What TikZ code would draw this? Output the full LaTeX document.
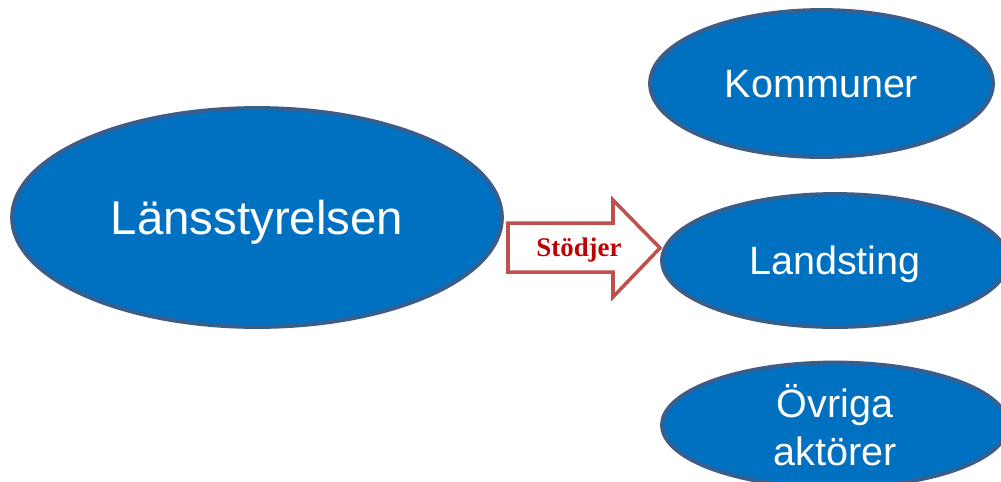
\documentclass[tikz,border=0pt]{standalone}
\usepackage{fontspec}
\setmainfont{Liberation Sans}
\newfontfamily\arrowfont{Liberation Serif}
\usetikzlibrary{shapes.geometric}
\definecolor{ovalblue}{RGB}{0,112,192}
\definecolor{ovalrim}{RGB}{58,94,140}
\definecolor{arrowrim}{RGB}{192,80,77}
\definecolor{arrowtext}{RGB}{192,0,0}
\tikzset{
  oval/.style={
    ellipse,
    fill=ovalblue,
    draw=ovalrim,
    line width=2.2pt,
    text=white,
    inner sep=0pt,
    text depth=0pt,
    align=center,
    font=\fontsize{22.5}{27}\selectfont
  },
  oval-big/.style={oval, font=\fontsize{27}{32}\selectfont},
  arrow-block/.style={draw=arrowrim, fill=white, line width=2pt, line join=miter},
  arrow-label/.style={text=arrowtext, font=\arrowfont\bfseries\fontsize{15.3}{18}\selectfont}
}

\begin{document}
\begin{tikzpicture}[x=0.02cm, y=-0.02cm]
  \useasboundingbox (0,0) rectangle (1001,481);

  % vänster sida
  \node[oval-big, minimum width=9.8cm, minimum height=4.38cm] (lans) at (257,217.5) {Länsstyrelsen};

  % höger sida
  \node[oval, minimum width=6.86cm, minimum height=2.94cm] (kommuner) at (821.5,83.5) {Kommuner};
  \node[oval, minimum width=6.92cm, minimum height=2.66cm] (landsting) at (835,260.5) {Landsting};
  \node[oval, minimum width=6.92cm, minimum height=2.5cm] (ovriga) at (835,425) {Övriga\\aktörer};

  % pilen
  \draw[arrow-block] (508,223) -- (613,223) -- (613,200) -- (660,248)
    -- (613,297) -- (613,272) -- (508,272) -- cycle;
  \node[arrow-label] (stodjer) at (579,250) {Stödjer};
\end{tikzpicture}
\end{document}
